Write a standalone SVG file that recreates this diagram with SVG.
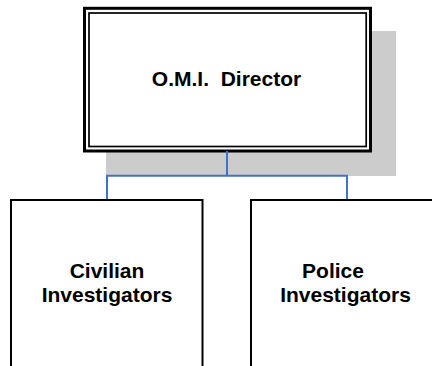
<svg xmlns="http://www.w3.org/2000/svg" width="432" height="366" viewBox="0 0 432 366">
<style>
.t{font-family:"Liberation Sans",Arial,sans-serif;font-weight:bold;font-size:21px;fill:#000;text-anchor:middle;white-space:pre}
.box{fill:#fff;stroke:#000;stroke-width:2}
.conn{fill:none;stroke:#4472C4;stroke-width:2}
</style>
<rect width="432" height="366" fill="#fff"/>
<g id="director">
<rect x="106" y="31" width="290" height="145" fill="#cccccc"/>
<rect x="84.5" y="8.3" width="286" height="142.7" fill="#fff" stroke="#000" stroke-width="3"/>
<rect x="89" y="13" width="277.2" height="133.5" fill="none" stroke="#000" stroke-width="1.7"/>
<text class="t" x="226.5" y="86" xml:space="preserve">O.M.I.  Director</text>
</g>
<g id="connectors">
<path class="conn" d="M227 151V175.7M107 200V175.7H347V200"/>
</g>
<g id="civilian">
<rect class="box" x="11" y="200" width="191.5" height="180"/>
<text class="t" x="107" y="278">Civilian</text>
<text class="t" x="107" y="301.7">Investigators</text>
</g>
<g id="police">
<rect class="box" x="251" y="200" width="200" height="180"/>
<text class="t" x="333" y="278">Police</text>
<text class="t" x="345.5" y="301.7">Investigators</text>
</g>
</svg>
